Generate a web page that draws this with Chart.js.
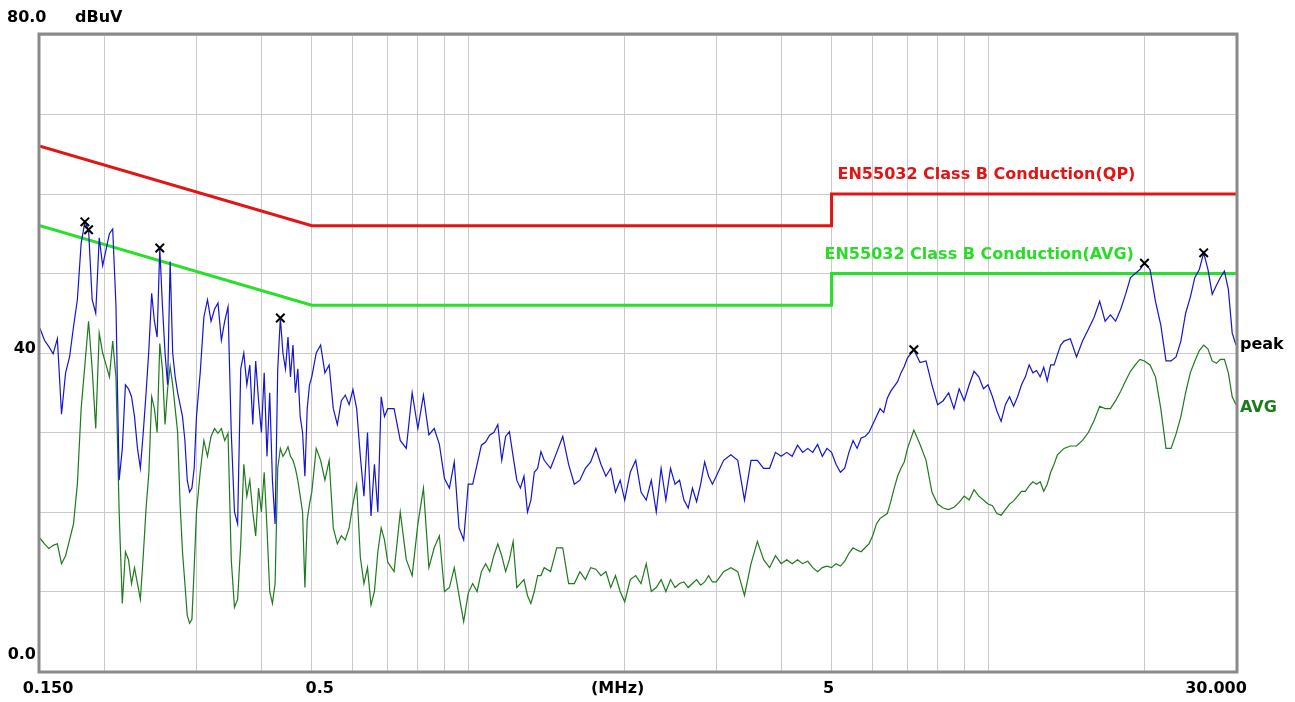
<!DOCTYPE html>
<html><head><meta charset="utf-8">
<script src="https://cdn.jsdelivr.net/npm/chart.js@4"></script>
<style>html,body{margin:0;padding:0;background:#fff;}canvas{display:block;}</style>
</head><body>
<canvas id="c" width="1295" height="702"></canvas>
<script>
// sweep frequencies (MHz)
const freqMHz = [
0.150,0.153,0.156,0.159,0.162,0.165,0.168,0.171,0.174,0.177,0.180,0.183,0.186,0.189,0.192,0.195,0.198,0.201,0.204,0.207,
0.210,0.213,0.216,0.219,0.222,0.225,0.228,0.231,0.234,0.237,0.240,0.243,0.246,0.249,0.252,0.255,0.258,0.261,0.264,0.267,
0.270,0.273,0.276,0.279,0.282,0.285,0.288,0.291,0.294,0.297,0.300,
0.305,0.310,0.315,0.320,0.325,0.330,0.335,0.340,0.345,0.350,0.355,0.360,0.365,0.370,0.375,0.380,0.385,0.390,0.395,0.400,
0.405,0.410,0.415,0.420,0.425,0.430,0.435,0.440,0.445,0.450,0.455,0.460,0.465,0.470,0.475,0.480,0.485,0.490,0.495,0.500,
0.51,0.52,0.53,0.54,0.55,0.56,0.57,0.58,0.59,0.60,0.61,0.62,0.63,0.64,0.65,0.66,0.67,0.68,0.69,0.70,
0.72,0.74,0.76,0.78,0.80,0.82,0.84,0.86,0.88,0.90,0.92,0.94,0.96,0.98,1.00,
1.02,1.04,1.06,1.08,1.10,1.12,1.14,1.16,1.18,1.20,1.22,1.24,1.26,1.28,1.30,1.32,1.34,1.36,1.38,1.40,
1.44,1.48,1.52,1.56,1.60,1.64,1.68,1.72,1.76,1.80,1.84,1.88,1.92,1.96,2.00,
2.05,2.10,2.15,2.20,2.25,2.30,2.35,2.40,2.45,2.50,2.55,2.60,2.65,2.70,2.75,2.80,2.85,2.90,2.95,3.00,
3.1,3.2,3.3,3.4,3.5,3.6,3.7,3.8,3.9,4.0,4.1,4.2,4.3,4.4,4.5,4.6,4.7,4.8,4.9,5.0,
5.1,5.2,5.3,5.4,5.5,5.6,5.7,5.8,5.9,6.0,6.1,6.2,6.3,6.4,6.5,6.6,6.7,6.8,6.9,7.0,
7.2,7.4,7.6,7.8,8.0,8.2,8.4,8.6,8.8,9.0,9.2,9.4,9.6,9.8,10.0,
10.2,10.4,10.6,10.8,11.0,11.2,11.4,11.6,11.8,12.0,12.2,12.4,12.6,12.8,13.0,13.2,13.4,13.6,13.8,14.0,
14.4,14.8,15.2,15.6,16.0,16.4,16.8,17.2,17.6,18.0,18.4,18.8,19.2,19.6,20.0,
20.5,21.0,21.5,22.0,22.5,23.0,23.5,24.0,24.5,25.0,25.5,26.0,26.5,27.0,27.5,28.0,28.5,29.0,29.5,30.0
];
// peak trace (dBuV)
const peakDb = [
43.1,41.6,40.8,39.9,41.8,32.3,37.5,39.5,43.3,46.7,53.8,56.5,55.5,46.7,45,54.5,51,53,55,55.6,
46,24,28,36,35.5,34.5,32,28,25.5,30,35,40.5,47.5,44,42,53.2,46,40,36,51.5,
40,37,35,33.5,32,29,24,22.5,23,25.5,32,
37.5,44.5,46.7,44,45.5,46.3,41.6,44,45.8,30,20,18.5,38,40,36,38.5,31,39,34,30,
37.5,27,35,24,18.5,38,44.4,40,38,42,37,41,35,38,32,30,24.5,33,36,37,
40,41,37.5,38.5,33,31,34,34.7,33.5,35.4,33,27,22,30,19.5,26,20,34.5,32,33,
33,29,28,35,30.5,34.7,29.7,30.5,28.5,24.2,23,26.3,18,16.5,23.5,
23.5,26,28.4,28.8,29.7,30,31,26.5,29.5,30.1,27,24,23,24.5,20,21.5,25,25.5,27.6,26.5,
25.5,27.5,29.5,26,23.5,24,25.5,26.3,28,26,24.5,25.5,22.5,24,21.5,
25,26.5,22.5,21.5,24,20,25.5,21.5,25.5,23.5,24,21.5,20.5,23,21.3,23.5,26.3,24.5,23.5,24.5,
26.5,27.2,26.5,21.5,26.5,26.5,25.5,25.5,27.5,27,27.5,27,28.4,27.5,28,27.5,28.5,27,28,27.5,
26,25,25.5,27.5,29,28,29.3,29.5,30,31,32,33,32.5,34.3,35.2,35.8,36.4,37.5,38.3,39.4,
40.4,38.8,39,36,33.5,34,35,33,35.5,34,36,37.7,37,35.5,36,
34.5,32.7,31.4,33.5,34.5,33.3,34.5,36,37,38.5,37.5,37.8,37,38.2,36.5,38.5,38.5,39.8,41,41.5,
41.8,39.5,41.5,43,44.5,46.5,44,44.8,44,45.5,47.4,49.5,50,50.5,51.3,
50.5,46.5,43.5,39,39,39.5,41.5,45,47,49.5,50.5,52.6,50.5,47.4,48.5,49.5,50.3,48,42.5,41
];
// average trace (dBuV)
const avgDb = [
16.7,16,15.4,15.8,16,13.5,14.5,16.5,18.5,23.5,33,38.5,44,38,30.5,42.5,40,38.5,37,41.5,
37,20,8.5,15,14,11,13,11,9,14.5,20.5,25,34.5,33,30,41.2,38,31,35.5,38.3,
36,33,30,21,15,11,7,6,6.5,13,20,
25,29,27,29.5,30.5,29.9,30.5,29,29.9,14,8,9,16,26,22,24,20,17,23,20,
25,18,10,8.5,11,25.5,28,27,27.5,28.2,27,26.5,25.5,24,22,20,10.5,19,21,22.5,
28,26.5,24,26.5,18,16,17,16.5,18,21,23.4,14.3,11,13,8.3,10,15,18,16.5,13.7,
12.5,20,14,12,18.5,23,13,15.5,17,10,10.5,13,9.5,6.2,9.8,
11,10,12.5,13.5,12.5,14.5,16,14.5,12.5,14,16.3,10.5,11,11.5,9.5,8.5,10,12,12,13,
12.5,15.5,15.5,11,11,12.5,11.5,13,12.8,12,12.5,10.5,12,10,8.7,
11.5,12,11,13.5,10,10.5,11.5,10,11.5,10.5,11,11.2,10.5,11,11.5,10.8,11.2,12,11.2,11.2,
12.5,13,12.5,9.5,13.5,16.3,14,13,14.5,13.5,14,13.5,14,13.5,13.8,13,12.5,13,13.2,13,
13.5,13.2,13.8,14.8,15.5,15.2,15,15.5,16,17,18.5,19.2,19.5,19.8,21.3,23,24.5,25.5,26.3,28,
30.3,28.5,26.5,22.5,21,20.5,20.3,20.6,21.2,22,21.5,22.8,22,21.5,21,
20.8,19.8,19.6,20.3,21,21.4,22,22.6,22.6,23.3,23.8,23.5,23.8,22.6,23.5,25,26,27.2,27.6,28,
28.3,28.3,29,30,31.5,33.3,33,33,34,35.2,36.5,37.7,38.5,39.2,39,
38.5,37,33,28,28,29.8,32,35,37.5,39,40.3,41,40.5,39,38.7,39.2,39.2,37.5,34.5,33.5
];
// limit lines
const qpLimitFreq = [0.15, 0.5, 5, 5, 30];
const qpLimitDb   = [66, 56, 56, 60, 60];
const avLimitFreq = [0.15, 0.5, 5, 5, 30];
const avLimitDb   = [56, 46, 46, 50, 50];
// peak markers
const markerFreq = [0.183, 0.186, 0.255, 0.435, 7.2, 20.0, 26.0];
const markerDb   = [56.5, 55.5, 53.2, 44.4, 40.4, 51.3, 52.6];
// axes
const xGridFreqs = [0.2,0.3,0.4,0.5,0.6,0.7,0.8,0.9,1,2,3,4,5,6,7,8,9,10,20];
const xLabelValues = [0.15, 0.5, 5, 30];
const xLabelTexts  = ['0.150', '0.5', '5', '30.000'];
const yLabelValues = [80, 40, 0];
const yLabelTexts  = ['80.0', '40', '0.0'];
const qpLabel = 'EN55032 Class B Conduction(QP)';
const avLabel = 'EN55032 Class B Conduction(AVG)';

const pts = (xs, ys) => xs.map((x, i) => ({x, y: ys[i]}));
const FONT = 'bold 16px "DejaVu Sans"';

const overlay = {
  id: 'overlay',
  afterDraw(chart) {
    const {ctx, chartArea: a, scales: {x, y}} = chart;
    ctx.save();
    // frame
    ctx.strokeStyle = '#8a8a8a';
    ctx.lineWidth = 3;
    ctx.strokeRect(a.left - 1, a.top - 1, a.right - a.left + 2, a.bottom - a.top + 2);
    ctx.font = FONT;
    ctx.textBaseline = 'middle';
    ctx.fillStyle = '#000';
    // y labels
    const yOff = [-17, -4, -16];
    const yAlign = ['left', 'right', 'right'];
    const yX = [7, 36, 36];
    yLabelValues.forEach((v, i) => {
      ctx.textAlign = yAlign[i];
      ctx.fillText(yLabelTexts[i], yX[i], y.getPixelForValue(v) + yOff[i]);
    });
    ctx.textAlign = 'left';
    ctx.fillText('dBuV', 75, y.getPixelForValue(80) - 17);
    // x labels
    const xOff = [8, 8, -3, -20];
    ctx.textAlign = 'center';
    const ly = a.bottom + 18;
    xLabelValues.forEach((v, i) => ctx.fillText(xLabelTexts[i], x.getPixelForValue(v) + xOff[i], ly));
    ctx.fillText('(MHz)', a.left + (a.right - a.left) * 0.483, ly);
    // limit labels
    ctx.textAlign = 'left';
    ctx.fillStyle = '#e21414';
    ctx.fillText(qpLabel, x.getPixelForValue(5) + 6, y.getPixelForValue(60) - 19);
    ctx.fillStyle = '#28dc28';
    ctx.fillText(avLabel, x.getPixelForValue(5) - 7, y.getPixelForValue(50) - 19);
    // trace labels
    ctx.fillStyle = '#000';
    ctx.fillText('peak', a.right + 4, y.getPixelForValue(peakDb[peakDb.length - 1]));
    ctx.fillStyle = '#1d7a1d';
    ctx.fillText('AVG', a.right + 4, y.getPixelForValue(avgDb[avgDb.length - 1]) + 3);
    ctx.restore();
  }
};

new Chart(document.getElementById('c'), {
  type: 'line',
  data: {
    datasets: [
      {label: 'markers', data: pts(markerFreq, markerDb), showLine: false, pointStyle: 'crossRot',
       pointRadius: 6, pointBorderWidth: 2, borderColor: '#000', backgroundColor: '#000', order: 0},
      {label: 'peak', data: pts(freqMHz, peakDb), borderColor: '#1414d2', borderWidth: 1.2,
       pointRadius: 0, tension: 0, order: 1},
      {label: 'AVG', data: pts(freqMHz, avgDb), borderColor: '#1d7a1d', borderWidth: 1.2,
       pointRadius: 0, tension: 0, order: 2},
      {label: 'QP limit', data: pts(qpLimitFreq, qpLimitDb), borderColor: '#e21414', borderWidth: 3,
       pointRadius: 0, tension: 0, order: 3},
      {label: 'AVG limit', data: pts(avLimitFreq, avLimitDb), borderColor: '#28e028', borderWidth: 3,
       pointRadius: 0, tension: 0, order: 4}
    ]
  },
  options: {
    responsive: false,
    animation: false,
    devicePixelRatio: 1,
    layout: {padding: {left: 40, top: 35, right: 59, bottom: 31}},
    plugins: {legend: {display: false}, tooltip: {enabled: false}},
    scales: {
      x: {
        type: 'logarithmic', min: 0.15, max: 30,
        afterBuildTicks: s => { s.ticks = xGridFreqs.map(v => ({value: v})); },
        ticks: {display: false},
        grid: {color: '#cacaca', lineWidth: 1, drawTicks: false},
        border: {display: false}
      },
      y: {
        type: 'linear', min: 0, max: 80,
        ticks: {display: false, stepSize: 10},
        grid: {color: '#cacaca', lineWidth: 1, drawTicks: false},
        border: {display: false}
      }
    }
  },
  plugins: [overlay]
});
</script>
</body></html>
